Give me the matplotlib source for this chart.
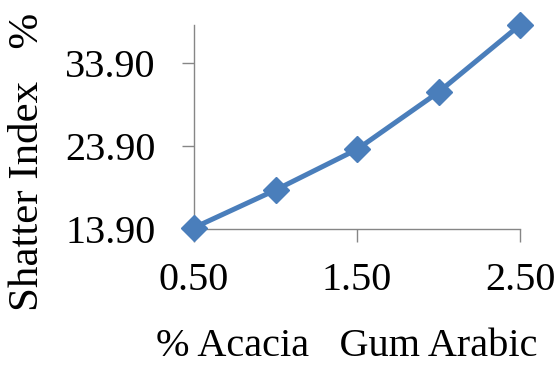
import matplotlib
matplotlib.use("Agg")
import matplotlib.pyplot as plt
from matplotlib.ticker import FormatStrFormatter

# data
gum_pct = [0.5, 1.0, 1.5, 2.0, 2.5]
shatter = [14.06, 18.6, 23.5, 30.4, 38.5]
x_ticks = [0.5, 1.5, 2.5]
y_ticks = [13.9, 23.9, 33.9]

plt.rcParams["font.family"] = ["Liberation Serif", "DejaVu Serif"]
fs = 29
axis_col = "#868686"
line_col = "#4a7ebb"

fig = plt.figure(figsize=(5.6, 3.65), dpi=100)
ax = fig.add_axes([194 / 560, 1 - 229 / 365, 326 / 560, 204 / 365])

ax.plot(gum_pct, shatter, color=line_col, linewidth=3.6, marker="D",
        markersize=13.5, clip_on=False, zorder=3)

ax.set_xlim(0.5, 2.5)
ax.set_ylim(13.9, 38.5)
ax.set_xticks(x_ticks)
ax.set_yticks(y_ticks)
ax.xaxis.set_major_formatter(FormatStrFormatter("%.2f"))
ax.yaxis.set_major_formatter(FormatStrFormatter("%.2f"))

for side in ["top", "right"]:
    ax.spines[side].set_visible(False)
for side in ["left", "bottom"]:
    ax.spines[side].set_color(axis_col)
    ax.spines[side].set_linewidth(1.0)

ax.tick_params(axis="x", direction="out", length=9.5, width=1.0,
               color=axis_col, labelsize=fs, pad=14)
ax.tick_params(axis="y", direction="out", length=8.6, width=1.0,
               color=axis_col, labelsize=fs, pad=19)

ax.set_xlabel("% Acacia   Gum Arabic", fontsize=fs)
ax.set_ylabel("Shatter Index   %", fontsize=31)
ax.xaxis.label.set_va("center")
ax.yaxis.label.set_va("center")
ax.xaxis.set_label_coords((347 - 194) / 326, (229 - 347) / 204)
ax.yaxis.set_label_coords((28 - 194) / 326, (229 - 162) / 204)

fig.savefig("out.png", dpi=100)
